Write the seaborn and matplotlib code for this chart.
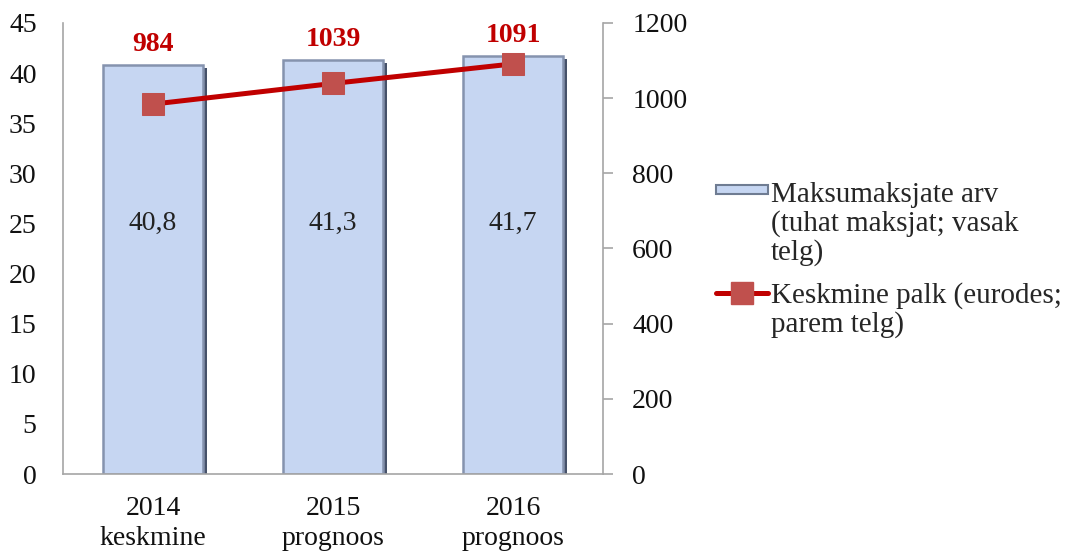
import numpy as np
import pandas as pd
import matplotlib
matplotlib.use("Agg")
import matplotlib.pyplot as plt
import matplotlib.patheffects as pe
import seaborn as sns
from matplotlib.lines import Line2D
from matplotlib.patches import Patch, Rectangle
from matplotlib.legend_handler import HandlerBase

categories = ["2014\nkeskmine", "2015\nprognoos", "2016\nprognoos"]
taxpayers = [40.8, 41.3, 41.7]          # thousand, left axis
avg_wage = [984, 1039, 1091]            # euros, right axis
bar_labels = ["40,8", "41,3", "41,7"]

BAR = "#C6D6F2"
BAR_EDGE = "#8593AE"
LINE = "#C00000"
MARK = "#C0504D"
FS = 20

sns.set_theme(style="white")
plt.rcParams["font.family"] = ["Liberation Serif", "DejaVu Serif"]

df = pd.DataFrame({"cat": categories, "taxpayers": taxpayers, "wage": avg_wage})

fig = plt.figure(figsize=(10.7, 5.59), dpi=100)
ax = fig.add_axes([0.0589, 0.152, 0.5047, 0.807])

sns.barplot(data=df, x="cat", y="taxpayers", ax=ax, width=0.555,
            color=BAR, edgecolor=BAR_EDGE, linewidth=1.8, saturation=1)
# rough bevel look: dark shade on the right side
bevel = [pe.SimplePatchShadow(offset=(3, -2), shadow_rgbFace="#46526A", alpha=1), pe.Normal()]
for p in ax.patches:
    p.set_path_effects(bevel)

ax.set_ylim(0, 45)
ax.set_yticks(np.arange(0, 46, 5))
ax.set_xlabel("")
ax.set_ylabel("")
ax.tick_params(axis="y", labelsize=FS, colors="#111111", length=0, pad=19)
ax.tick_params(axis="x", labelsize=FS, colors="#111111", length=0, pad=16)
for t in ax.get_xticklabels():
    t.set_linespacing(1.25)
for s in ["top", "right"]:
    ax.spines[s].set_visible(False)
for s in ["left", "bottom"]:
    ax.spines[s].set_color("#A6A6A6")
    ax.spines[s].set_linewidth(1.2)

for i, lab in enumerate(bar_labels):
    ax.text(i, 25.0, lab, ha="center", va="center", fontsize=FS, color="#222222")

for i, v in enumerate(avg_wage):
    ax.annotate(str(v), xy=(i, taxpayers[i]), xytext=(0, 6), textcoords="offset points",
                ha="center", va="bottom", fontsize=FS, fontweight="bold", color=LINE)

ax2 = ax.twinx()
sns.lineplot(data=df, x="cat", y="wage", ax=ax2, color=LINE, linewidth=3.6,
             marker="s", markersize=16, markerfacecolor=MARK,
             markeredgecolor=MARK, sort=False)
ax.set_xlim(-0.5, 2.5)
ax2.set_ylim(0, 1200)
ax2.set_yticks(np.arange(0, 1201, 200))
ax2.set_ylabel("")
ax2.set_xlabel("")
ax2.tick_params(axis="y", labelsize=FS, labelcolor="#111111", color="#A6A6A6",
                length=7, width=1.2, direction="out", pad=14, right=True)
for s in ["top", "left", "bottom"]:
    ax2.spines[s].set_visible(False)
ax2.spines["right"].set_color("#A6A6A6")
ax2.spines["right"].set_linewidth(1.2)


class TopBar(HandlerBase):
    def __init__(self, shift):
        super().__init__()
        self.shift = shift

    def create_artists(self, legend, orig_handle, xdescent, ydescent, width, height,
                       fontsize, trans):
        yc = -ydescent + height / 2 + self.shift
        r = Rectangle((-xdescent, yc - 3.5), width, 7, facecolor=BAR, edgecolor="#6F7C92",
                      linewidth=1.5, transform=trans)
        return [r]


class TopLine(HandlerBase):
    def __init__(self, shift):
        super().__init__()
        self.shift = shift

    def create_artists(self, legend, orig_handle, xdescent, ydescent, width, height,
                       fontsize, trans):
        yc = -ydescent + height / 2 + self.shift
        ln = Line2D([-xdescent, -xdescent + width], [yc, yc], color=LINE, linewidth=3.6,
                    transform=trans)
        mk = Line2D([-xdescent + width / 2], [yc], marker="s", markersize=16, linestyle="",
                    markerfacecolor=MARK, markeredgecolor=MARK, transform=trans)
        return [ln, mk]


h_bar = Patch()
h_line = Line2D([], [])
labels = ["Maksumaksjate arv\n(tuhat maksjat; vasak\ntelg)",
          "Keskmine palk (eurodes;\nparem telg)"]
LS = 1.1
step = LS * 21 * 1.07
leg = fig.legend([h_bar, h_line], labels, loc="center left",
                 bbox_to_anchor=(0.669, 0.535), frameon=False, fontsize=21,
                 handlelength=1.8, handletextpad=0.1, labelspacing=0.55,
                 borderaxespad=0, borderpad=0,
                 handler_map={h_bar: TopBar(step), h_line: TopLine(step / 2)})
for t in leg.get_texts():
    t.set_linespacing(LS)

plt.savefig("out.png", dpi=100)
